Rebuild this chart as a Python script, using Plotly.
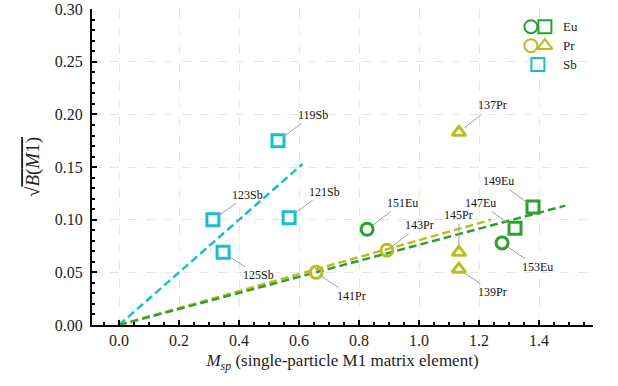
import plotly.graph_objects as go

# ---- data ----
sb_names = ["119Sb", "121Sb", "123Sb", "125Sb"]
sb_x = [0.530, 0.567, 0.313, 0.347]
sb_y = [0.175, 0.102, 0.100, 0.069]

eu_circ_names = ["151Eu", "153Eu"]
eu_circ_x = [0.827, 1.277]
eu_circ_y = [0.091, 0.078]

eu_sq_names = ["147Eu", "149Eu"]
eu_sq_x = [1.320, 1.380]
eu_sq_y = [0.092, 0.112]

pr_circ_names = ["141Pr", "143Pr"]
pr_circ_x = [0.657, 0.893]
pr_circ_y = [0.050, 0.071]

pr_tri_names = ["137Pr", "139Pr", "145Pr"]
pr_tri_x = [1.133, 1.133, 1.133]
pr_tri_y = [0.183, 0.053, 0.069]

# fit lines (slope, x-end)
sb_fit = (0.250, 0.612)
eu_fit = (0.0762, 1.488)
pr_fit = (0.0806, 1.24)

# label offsets in pixels (dx, dy) from marker to label centre
label_off = {
    "119Sb": (35, -26), "121Sb": (35, -26), "123Sb": (35, -25), "125Sb": (35, 23),
    "151Eu": (35, -26), "153Eu": (35, 24), "147Eu": (-35, -25), "149Eu": (-35, -26),
    "141Pr": (35, 24), "143Pr": (33, -25),
    "137Pr": (34, -27), "139Pr": (34, 23), "145Pr": (0, -37),
}

GREEN = "#2ca02c"
OLIVE = "#bcbd22"
CYAN = "#17becf"
SERIF = "Liberation Serif"

fig = go.Figure()

for (slope, xe), col in [(sb_fit, CYAN), (pr_fit, OLIVE), (eu_fit, GREEN)]:
    fig.add_trace(go.Scatter(x=[0, xe], y=[0, slope * xe], mode="lines",
                             line=dict(color=col, width=2.5, dash="8px,4px"),
                             showlegend=False, hoverinfo="skip"))

def add_pts(xs, ys, sym, col):
    fig.add_trace(go.Scatter(x=xs, y=ys, mode="markers",
                             marker=dict(symbol=sym, size=12, color=col,
                                         line=dict(color=col, width=3)),
                             showlegend=False))

add_pts(sb_x, sb_y, "square-open", CYAN)
add_pts(eu_circ_x, eu_circ_y, "circle-open", GREEN)
add_pts(eu_sq_x, eu_sq_y, "square-open", GREEN)
add_pts(pr_circ_x, pr_circ_y, "circle-open", OLIVE)
add_pts(pr_tri_x, pr_tri_y, "triangle-up-open", OLIVE)

annotations = []
for names, xs, ys in [(sb_names, sb_x, sb_y), (eu_circ_names, eu_circ_x, eu_circ_y),
                      (eu_sq_names, eu_sq_x, eu_sq_y), (pr_circ_names, pr_circ_x, pr_circ_y),
                      (pr_tri_names, pr_tri_x, pr_tri_y)]:
    for n, x, y in zip(names, xs, ys):
        dx, dy = label_off[n]
        annotations.append(dict(x=x, y=y, text=n, ax=dx, ay=dy, showarrow=True,
                                arrowhead=0, arrowwidth=1, arrowcolor="#a0a0a0",
                                standoff=7, font=dict(family=SERIF, size=12, color="#111")))

leg_rows = [("Eu", [("circle-open", GREEN, 0.876), ("square-open", GREEN, 0.904)], 0.944),
            ("Pr", [("circle-open", OLIVE, 0.876), ("triangle-up-open", OLIVE, 0.904)], 0.884),
            ("Sb", [("square-open", CYAN, 0.890)], 0.824)]
for name, syms, ypos in leg_rows:
    for sym, col, xpos in syms:
        fig.add_trace(go.Scatter(x=[xpos], y=[ypos], xaxis="x2", yaxis="y2", mode="markers",
                                 marker=dict(symbol=sym, size=13, color=col,
                                             line=dict(color=col, width=2)),
                                 showlegend=False, hoverinfo="skip"))
    annotations.append(dict(x=0.937, y=ypos, xref="x2", yref="y2", text=name, showarrow=False,
                            xanchor="left", yanchor="middle",
                            font=dict(family=SERIF, size=13, color="#222")))

axis_common = dict(showline=True, linecolor="black", linewidth=2, ticks="inside",
                   ticklen=5, tickwidth=1.5, tickcolor="black", mirror=False,
                   showgrid=True, gridcolor="#e6e6e6", gridwidth=1, griddash="dash",
                   zeroline=False, ticklabeloverflow="allow", automargin=False,
                   tickfont=dict(family=SERIF, size=16, color="#222"))

fig.update_layout(
    width=618, height=386,
    margin=dict(l=92, r=25, t=9, b=61),
    paper_bgcolor="white", plot_bgcolor="white",
    showlegend=False,
    font=dict(family=SERIF),
    xaxis=dict(range=[-0.09, 1.58], dtick=0.2, tick0=0, tickformat=".1f",
               minor=dict(dtick=0.05, tick0=0, ticks="inside", ticklen=3, tickcolor="black",
                          showgrid=False),
               title=dict(text="<i>M<sub>sp</sub></i> (single-particle M1 matrix element)",
                          font=dict(family=SERIF, size=17, color="#222"), standoff=6),
               **axis_common),
    yaxis=dict(range=[0, 0.3002], dtick=0.05, tick0=0, tickformat=".2f",
               minor=dict(dtick=0.01, tick0=0, ticks="inside", ticklen=3, tickcolor="black",
                          showgrid=False),
               title=dict(text="√<span style='text-decoration:overline'><i>B</i>(<i>M</i>1)</span>",
                          font=dict(family=SERIF, size=19, color="#222"), standoff=10),
               ticklabelstandoff=4,
               **axis_common),
    xaxis2=dict(range=[0, 1], overlaying="x", visible=False),
    yaxis2=dict(range=[0, 1], overlaying="y", visible=False),
    annotations=annotations,
)

fig.write_html("out.html")
